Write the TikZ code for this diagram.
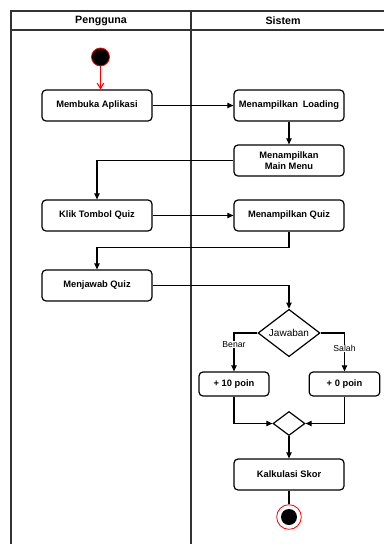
\documentclass[tikz,border=0pt]{standalone}
\usepackage{fontspec}
\setmainfont{Liberation Sans}
\usetikzlibrary{arrows.meta,shapes.geometric}
\begin{document}
\begin{tikzpicture}[x=0.75pt,y=-0.75pt,
  lane/.style={draw=black!80,line width=1.5pt},
  act/.style={draw=black,line width=0.9pt,rounded corners=3pt,fill=white,
    minimum width=82.5pt,minimum height=23.25pt,inner sep=1pt,align=center,
    font=\fontsize{7}{8.5}\selectfont\bfseries},
  small/.style={act,minimum height=18pt},
  choice/.style={draw=black,line width=0.9pt,diamond,fill=white,inner sep=0pt},
  flow/.style={draw=black,line width=0.8pt,-{Triangle[length=4.5pt,width=4pt]}},
  guard/.style={fill=white,inner sep=0.5pt,font=\fontsize{6.5}{7}\selectfont},
  header/.style={font=\fontsize{8}{9}\selectfont\bfseries}]
\useasboundingbox (0,0) rectangle (384,544);
\clip (0,0) rectangle (384,544);
\fill[white] (0,0) rectangle (384,544);

% swimlane frame
\draw[lane] (400,11) -- (11,11) -- (11,560);
\draw[lane] (11,30) -- (400,30);
\draw[lane] (191,11) -- (191,560);
\node[header] (hUser) at (101,20.5) {Pengguna};
\node[header] (hSys) at (283,20.5) {Sistem};

% activities
\node[circle,fill=black,draw=red,line width=0.6pt,minimum size=13.5pt,inner sep=0pt] (start) at (100.5,57) {};
\node[act] (buka) at (97,105.5) {Membuka Aplikasi};
\node[act] (loading) at (289,105.5) {Menampilkan\enspace Loading};
\node[act] (menu) at (289,160.5) {Menampilkan\\Main Menu};
\node[act] (klik) at (97,215.5) {Klik Tombol Quiz};
\node[act] (tampil) at (289,215.5) {Menampilkan Quiz};
\node[act] (jawab) at (97,285.5) {Menjawab Quiz};
\node[choice,minimum width=46.5pt,minimum height=34.5pt,font=\fontsize{7.5}{8}\selectfont] (cek) at (289,333) {Jawaban};
\node[small,minimum width=52.5pt] (benar) at (234,384) {+ 10 poin};
\node[small,minimum width=53pt] (salah) at (344.5,384) {+ 0 poin};
\node[choice,minimum width=24pt,minimum height=18pt] (gabung) at (289,423.5) {};
\node[act] (skor) at (289,474.5) {Kalkulasi Skor};
\node[circle,draw=red,line width=0.6pt,fill=white,minimum size=18.5pt,inner sep=0pt] (end) at (289,517) {};
\node[circle,fill=black,minimum size=12pt,inner sep=0pt] (endDot) at (end.center) {};

% control flow
\draw[flow,draw=red,-{Straight Barb[length=4pt,width=5pt]}] (start.south) -- (start.south |- buka.north);
\draw[flow] (buka.east) -- (loading.west);
\draw[flow] (loading.south) -- (menu.north);
\draw[flow] (menu.west) -| (klik.north);
\draw[flow] (klik.east) -- (tampil.west);
\draw[flow] (tampil.south) -- ++(0,15.5) -| (jawab.north);
\draw[flow] (jawab.east) -| (cek.north);
\draw[flow] (cek.west) -| node[guard,pos=0.65] (gBenar) {Benar} (benar.north);
\draw[flow] (cek.east) -| node[guard,pos=0.7] (gSalah) {Salah} (salah.north);
\draw[flow] (benar.south) |- (gabung.west);
\draw[flow] (salah.south) |- (gabung.east);
\draw[flow] (gabung.south) -- (skor.north);
\draw[draw=black,line width=0.8pt] (skor.south) -- (end.north);
\end{tikzpicture}
\end{document}
